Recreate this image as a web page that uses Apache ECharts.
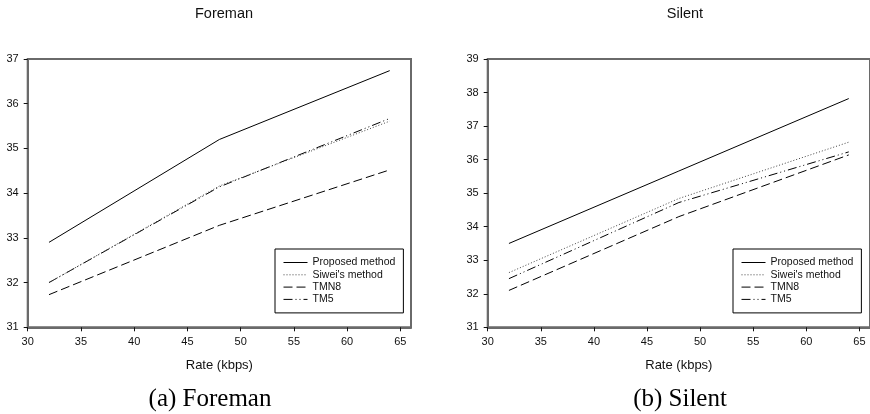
<!DOCTYPE html>
<html>
<head>
<meta charset="utf-8">
<script src="https://cdn.jsdelivr.net/npm/echarts@6/dist/echarts.min.js"></script>
<style>
  html, body { margin: 0; padding: 0; background: #fff; }
  #chart { width: 870px; height: 414px; }
</style>
</head>
<body>
<div id="chart"></div>
<script>
// Rate points (kbps) shared by both sequences
const rates = [32, 48, 64];
const xTicks = [30, 35, 40, 45, 50, 55, 60, 65];

// PSNR (dB) for the Foreman sequence
const foremanProposed = [32.90, 35.20, 36.74];
const foremanSiwei    = [32.00, 34.16, 35.61];
const foremanTMN8     = [31.73, 33.28, 34.52];
const foremanTM5      = [32.00, 34.14, 35.67];

// PSNR (dB) for the Silent sequence
const silentProposed = [33.50, 35.66, 37.82];
const silentSiwei    = [32.63, 34.84, 36.52];
const silentTMN8     = [32.10, 34.30, 36.14];
const silentTM5      = [32.45, 34.72, 36.23];

const seriesNames = ['Proposed method', "Siwei's method", 'TMN8', 'TM5'];

const lineStyles = [
  { color: '#000', width: 1, type: 'solid' },
  { color: '#444', width: 1, type: [1, 2] },
  { color: '#000', width: 1, type: [9, 4] },
  { color: '#000', width: 1, type: [9, 3, 1, 3, 1, 3] }
];

const sans = 'Liberation Sans, Arial, sans-serif';
const frameColor = '#6a6a6a';

function pairs(values) {
  return rates.map((r, i) => [r, values[i]]);
}

function xAxisFor(gridIndex) {
  return {
    type: 'value', gridIndex: gridIndex,
    min: 30, max: 66, interval: 5,
    name: 'Rate (kbps)', nameLocation: 'middle', nameGap: 32,
    nameTextStyle: { fontFamily: sans, fontSize: 13, color: '#111' },
    axisLine: { show: true, lineStyle: { color: frameColor, width: 2 } },
    axisTick: { show: true, length: 4, customValues: xTicks, lineStyle: { color: '#111', width: 1 } },
    axisLabel: { customValues: xTicks, margin: 9, fontFamily: sans, fontSize: 11, color: '#111' },
    splitLine: { show: false }
  };
}

function yAxisFor(gridIndex, min, max) {
  return {
    type: 'value', gridIndex: gridIndex,
    min: min, max: max, interval: 1,
    axisLine: { show: true, lineStyle: { color: frameColor, width: 2 } },
    axisTick: { show: true, length: 4, lineStyle: { color: '#111', width: 1 } },
    axisLabel: { margin: 9, fontFamily: sans, fontSize: 11, color: '#111' },
    splitLine: { show: false }
  };
}

function seriesFor(gridIndex, sets) {
  return sets.map((vals, i) => ({
    name: seriesNames[i],
    type: 'line',
    xAxisIndex: gridIndex, yAxisIndex: gridIndex,
    data: pairs(vals),
    symbol: 'none',
    silent: true,
    color: lineStyles[i].color,
    itemStyle: { color: lineStyles[i].color },
    lineStyle: lineStyles[i],
    z: 10 - i
  }));
}

function legendAt(left, top) {
  return {
    orient: 'vertical', left: left, top: top,
    data: seriesNames,
    itemWidth: 24, itemHeight: 12, itemGap: 1.3,
    padding: [8, 8, 8, 8],
    borderColor: '#000', borderWidth: 1,
    backgroundColor: '#fff',
    selectedMode: false,
    itemStyle: { opacity: 0 },
    lineStyle: { width: 1 },
    textStyle: { fontFamily: sans, fontSize: 10.5, color: '#111' }
  };
}

const chart = echarts.init(document.getElementById('chart'), null, { renderer: 'canvas' });

chart.setOption({
  backgroundColor: '#fff',
  animation: false,
  title: [
    { text: 'Foreman', left: 219, top: 1, textAlign: 'center',
      textStyle: { fontFamily: sans, fontSize: 14.5, fontWeight: 'normal', color: '#111' } },
    { text: 'Silent', left: 680, top: 1, textAlign: 'center',
      textStyle: { fontFamily: sans, fontSize: 14.5, fontWeight: 'normal', color: '#111' } },
    { text: '(a) Foreman', left: 205, top: 382, textAlign: 'center',
      textStyle: { fontFamily: 'Liberation Serif, serif', fontSize: 25, fontWeight: 'normal', color: '#000' } },
    { text: '(b) Silent', left: 675, top: 382, textAlign: 'center',
      textStyle: { fontFamily: 'Liberation Serif, serif', fontSize: 25, fontWeight: 'normal', color: '#000' } }
  ],
  legend: [legendAt(275, 249), legendAt(733, 249)],
  grid: [
    { left: 27.7, top: 59, width: 383.3, height: 268.3, show: true,
      borderColor: frameColor, borderWidth: 2, backgroundColor: 'transparent' },
    { left: 487.7, top: 59, width: 383.3, height: 268.3, show: true,
      borderColor: frameColor, borderWidth: 2, backgroundColor: 'transparent' }
  ],
  xAxis: [xAxisFor(0), xAxisFor(1)],
  yAxis: [yAxisFor(0, 31, 37), yAxisFor(1, 31, 39)],
  series: [].concat(
    seriesFor(0, [foremanProposed, foremanSiwei, foremanTMN8, foremanTM5]),
    seriesFor(1, [silentProposed, silentSiwei, silentTMN8, silentTM5])
  )
});
</script>
</body>
</html>
